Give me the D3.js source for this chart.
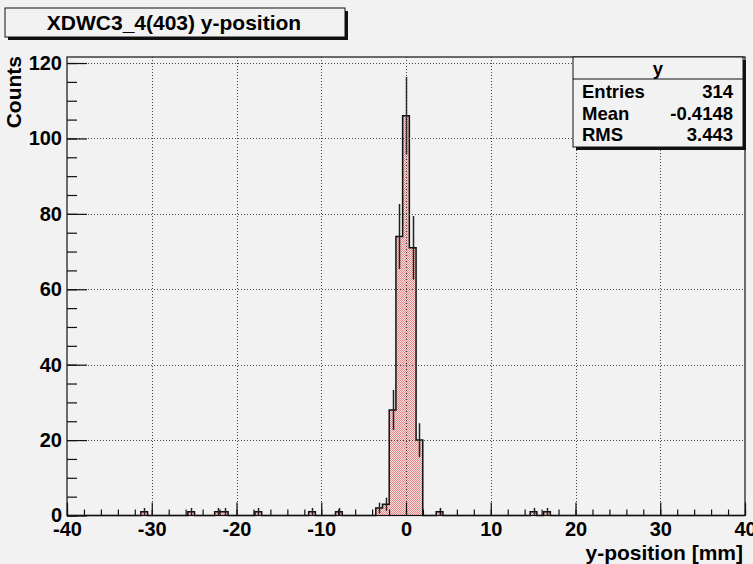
<!DOCTYPE html>
<html>
<head>
<meta charset="utf-8">
<script src="https://cdn.jsdelivr.net/npm/d3@7"></script>
<style>
  body { margin: 0; background: #f2f2f2; }
  svg { display: block; font-family: "Liberation Sans", Arial, sans-serif; font-weight: bold; }
</style>
</head>
<body>
<svg id="chart"></svg>
<script>
// histogram: 101 bins over [-40, 40]; only the non-empty bins are listed
const binCenters = [-30.89, -25.35, -22.18, -21.39, -17.43, -11.09, -7.92, -3.17, -2.38, -1.58, -0.79, 0, 0.79, 1.58, 3.96, 15.05, 16.63];
const counts     = [1, 1, 1, 1, 1, 1, 1, 2, 3, 28, 74, 106, 71, 20, 1, 1, 1];
const xTicks = [-40, -30, -20, -10, 0, 10, 20, 30, 40];
const yTicks = [0, 20, 40, 60, 80, 100, 120];
const statsLabels = ["Entries", "Mean", "RMS"];
const statsValues = ["314", "-0.4148", "3.443"];

const width = 753, height = 564;
const frame = {left: 67, right: 745, top: 57, bottom: 515.5};
const nBins = 101, xMin = -40, xMax = 40;
const binW = (xMax - xMin) / nBins;

const svg = d3.select('#chart').attr('width', width).attr('height', height);

const x = d3.scaleLinear().domain([xMin, xMax]).range([frame.left, frame.right]);
const y = d3.scaleLinear().domain([0, 121.6]).range([frame.bottom, frame.top]);

// checkered red fill like ROOT's hatch style
const defs = svg.append('defs');
const pat = defs.append('pattern').attr('id', 'hatch')
  .attr('width', 2).attr('height', 2).attr('patternUnits', 'userSpaceOnUse');
pat.append('rect').attr('width', 2).attr('height', 2).attr('fill', '#f7dcdc');
pat.append('rect').attr('width', 1).attr('height', 1).attr('fill', '#e48a8a');
pat.append('rect').attr('x', 1).attr('y', 1).attr('width', 1).attr('height', 1).attr('fill', '#e48a8a');

svg.append('rect').attr('width', width).attr('height', height).attr('fill', '#f2f2f2');

// full bin contents
var full = d3.range(nBins).map(i => 0);
binCenters.forEach((c, i) => {
  var k = Math.round((c - xMin) / binW - 0.5);
  full[k] = counts[i];
});

var steps = [];
full.forEach((v, k) => {
  steps.push([xMin + k * binW, v]);
  steps.push([xMin + (k + 1) * binW, v]);
});

var area = d3.area().x(d => x(d[0])).y0(y(0)).y1(d => y(d[1]));
var line = d3.line().x(d => x(d[0])).y(d => y(d[1]));

svg.append('path').datum(steps).attr('d', area).attr('fill', 'url(#hatch)');
svg.append('path').datum(steps).attr('d', line)
  .attr('fill', 'none').attr('stroke', '#111').attr('stroke-width', 1.5);

// error bars
svg.append('g').selectAll('line')
  .data(binCenters.map((c, i) => ({c: c, n: counts[i]})))
  .join('line')
  .attr('x1', d => Math.round(x(d.c)) + 0.5).attr('x2', d => Math.round(x(d.c)) + 0.5)
  .attr('y1', d => y(d.n - Math.sqrt(d.n))).attr('y2', d => y(d.n + Math.sqrt(d.n)))
  .attr('stroke', '#222').attr('stroke-width', 1.5);

// grid
var grid = svg.append('g').attr('stroke', '#444').attr('stroke-width', 1).attr('stroke-dasharray', '1,2');
grid.selectAll('.gx').data(xTicks.slice(1, -1)).join('line')
  .attr('x1', d => Math.round(x(d)) + 0.5).attr('x2', d => Math.round(x(d)) + 0.5)
  .attr('y1', frame.top).attr('y2', frame.bottom);
grid.selectAll('.gy').data(yTicks.slice(1)).join('line')
  .attr('y1', d => Math.round(y(d)) + 0.5).attr('y2', d => Math.round(y(d)) + 0.5)
  .attr('x1', frame.left).attr('x2', frame.right);

// frame
svg.append('rect')
  .attr('x', frame.left).attr('y', frame.top)
  .attr('width', frame.right - frame.left).attr('height', frame.bottom - frame.top)
  .attr('fill', 'none').attr('stroke', '#111').attr('stroke-width', 1.2);

// axes
var xAxis = svg.append('g').attr('transform', `translate(0,${frame.bottom})`)
  .call(d3.axisBottom(x).tickValues(xTicks).tickSize(-13).tickPadding(6).tickFormat(d => String(d)));
svg.append('g').attr('transform', `translate(0,${frame.bottom})`)
  .call(d3.axisBottom(x).tickValues(d3.range(-40, 41, 2)).tickSize(-6).tickFormat(''));
var yAxis = svg.append('g').attr('transform', `translate(${frame.left},0)`)
  .call(d3.axisLeft(y).tickValues(yTicks).tickSize(-20).tickPadding(5).tickFormat(d => String(d)));
svg.append('g').attr('transform', `translate(${frame.left},0)`)
  .call(d3.axisLeft(y).tickValues(d3.range(0, 121, 5)).tickSize(-10).tickFormat(''));

svg.selectAll('.domain').remove();
svg.selectAll('.tick line').attr('stroke', '#111').attr('stroke-width', 1.2);
xAxis.selectAll('text').attr('font-size', 20).attr('fill', '#000').attr('font-family', null);
yAxis.selectAll('text').attr('font-size', 20).attr('fill', '#000').attr('font-family', null);

// axis titles
svg.append('text').attr('x', 743).attr('y', 560).attr('text-anchor', 'end')
  .attr('font-size', 21).text('y-position [mm]');
svg.append('text').attr('transform', 'translate(21,56) rotate(-90)').attr('text-anchor', 'end')
  .attr('font-size', 21).text('Counts');

// title box
svg.append('rect').attr('x', 8).attr('y', 11).attr('width', 340).attr('height', 29).attr('fill', '#111');
svg.append('rect').attr('x', 5).attr('y', 8).attr('width', 340).attr('height', 29)
  .attr('fill', '#f2f2f2').attr('stroke', '#111').attr('stroke-width', 1);
svg.append('text').attr('x', 174).attr('y', 29.5).attr('text-anchor', 'middle')
  .attr('font-size', 21).text('XDWC3_4(403) y-position');

// stats box
var sb = {x: 573, y: 57, w: 170, h: 90};
svg.append('rect').attr('x', sb.x + 3).attr('y', sb.y + 3).attr('width', sb.w).attr('height', sb.h).attr('fill', '#111');
svg.append('rect').attr('x', sb.x).attr('y', sb.y).attr('width', sb.w).attr('height', sb.h)
  .attr('fill', '#f2f2f2').attr('stroke', '#111').attr('stroke-width', 1);
svg.append('line').attr('x1', sb.x).attr('x2', sb.x + sb.w).attr('y1', 79).attr('y2', 79)
  .attr('stroke', '#111').attr('stroke-width', 1);
svg.append('text').attr('x', sb.x + sb.w / 2).attr('y', 75).attr('text-anchor', 'middle')
  .attr('font-size', 18.5).text('y');
statsLabels.forEach((lab, i) => {
  var yy = 98 + i * 21.7;
  svg.append('text').attr('x', 582).attr('y', yy).attr('font-size', 18.5).text(lab);
  svg.append('text').attr('x', 733).attr('y', yy).attr('text-anchor', 'end').attr('font-size', 18.5).text(statsValues[i]);
});
</script>
</body>
</html>
